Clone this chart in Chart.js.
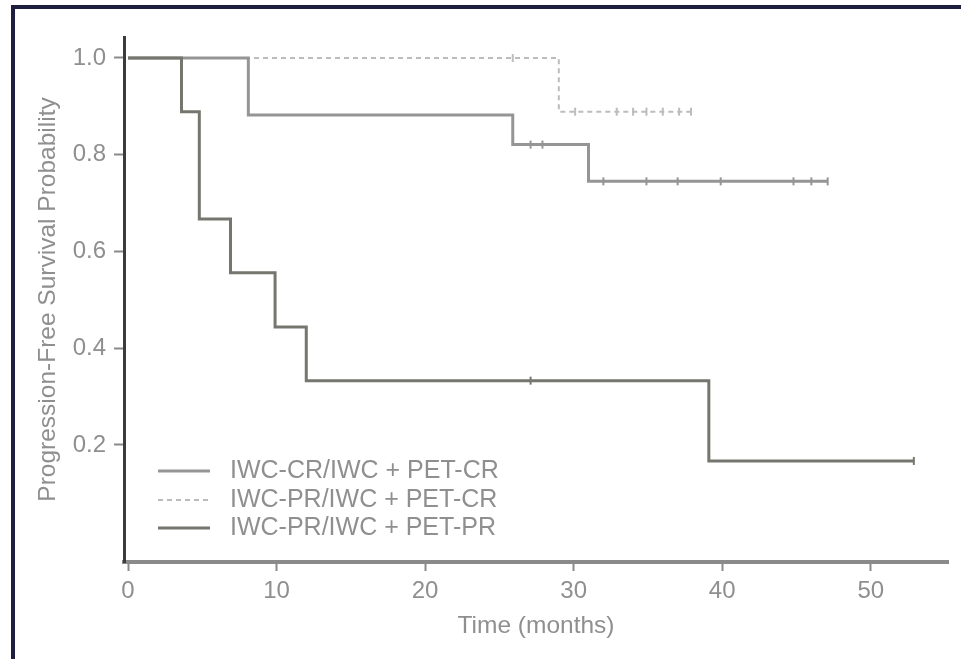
<!DOCTYPE html>
<html>
<head>
<meta charset="utf-8">
<script src="https://cdn.jsdelivr.net/npm/chart.js@4.4.1/dist/chart.umd.min.js"></script>
<style>
  html, body { margin: 0; padding: 0; background: #fff; }
  #wrap { position: relative; width: 961px; height: 659px; overflow: hidden; }
  #frame { position: absolute; left: 11px; top: 5px; right: -10px; bottom: -10px;
           border-top: 4px solid #1e1e40; border-left: 4px solid #1e1e40; pointer-events: none; }
  canvas { position: absolute; left: 0; top: 0; }
</style>
</head>
<body>
<div id="wrap"><canvas id="km" width="961" height="659"></canvas><div id="frame"></div></div>
<script>
// series names (legend order)
const seriesNames = ['IWC-CR/IWC + PET-CR', 'IWC-PR/IWC + PET-CR', 'IWC-PR/IWC + PET-PR'];

// Kaplan-Meier steps: time (months) and survival after the step
const crCrTimes = [0, 8.1, 25.9, 31.0, 47.1];
const crCrSurv  = [1.0, 0.882, 0.821, 0.745, 0.745];
const prCrTimes = [0, 29.0, 38.0];
const prCrSurv  = [1.0, 0.889, 0.889];
const prPrTimes = [0, 3.6, 4.8, 6.9, 9.9, 12.0, 39.1, 52.9];
const prPrSurv  = [1.0, 0.889, 0.667, 0.556, 0.444, 0.333, 0.167, 0.167];

// censored observations (tick marks)
const crCrCensorTimes = [27.1, 27.9, 32.0, 34.9, 37.0, 39.9, 44.8, 46.0, 47.1];
const crCrCensorSurv  = [0.821, 0.821, 0.745, 0.745, 0.745, 0.745, 0.745, 0.745, 0.745];
const prCrCensorTimes = [25.9, 30.1, 32.9, 34.0, 34.9, 36.0, 37.1, 37.9];
const prCrCensorSurv  = [1.0, 0.889, 0.889, 0.889, 0.889, 0.889, 0.889, 0.889];
const prPrCensorTimes = [27.1, 52.9];
const prPrCensorSurv  = [0.333, 0.167];

// axis ticks
const xTicks = [0, 10, 20, 30, 40, 50];
const yTicks = [0.2, 0.4, 0.6, 0.8, 1.0];

const FONT = '"Liberation Sans", Arial, sans-serif';
const TEXT = '#8f8f8f';

const pts = (xs, ys) => xs.map((x, i) => ({ x: x, y: ys[i] }));

const styles = [
  { color: '#959595', width: 3, dash: [] },
  { color: '#bcbcbc', width: 2, dash: [5, 4] },
  { color: '#76766e', width: 3, dash: [] }
];

function stepSet(i, xs, ys, order) {
  return {
    type: 'line', label: seriesNames[i], data: pts(xs, ys), stepped: 'before',
    borderColor: styles[i].color, borderWidth: styles[i].width, borderDash: styles[i].dash,
    pointRadius: 0, fill: false, order: order, isCurve: true
  };
}
function censorSet(i, xs, ys) {
  return {
    type: 'scatter', label: '', data: pts(xs, ys), showLine: false,
    pointStyle: 'line', rotation: 90, pointRadius: 4, borderWidth: 2,
    borderColor: styles[i].color, order: 0
  };
}

// legend drawn inside the plot, lower left
const kmLegend = {
  id: 'kmLegend',
  afterDraw(chart) {
    const ctx = chart.ctx;
    const rows = [471, 500, 528];
    let r = 0;
    chart.data.datasets.forEach(ds => {
      if (!ds.isCurve) return;
      const y = rows[r++];
      ctx.save();
      ctx.strokeStyle = ds.borderColor;
      ctx.lineWidth = ds.borderWidth;
      ctx.setLineDash(ds.borderDash);
      ctx.beginPath();
      ctx.moveTo(158, y);
      ctx.lineTo(210, y);
      ctx.stroke();
      ctx.setLineDash([]);
      ctx.fillStyle = TEXT;
      ctx.font = '25px ' + FONT;
      ctx.textBaseline = 'middle';
      ctx.fillText(ds.label, 230, y);
      ctx.restore();
    });
  }
};

new Chart(document.getElementById('km'), {
  data: {
    datasets: [
      stepSet(0, crCrTimes, crCrSurv, 2),
      stepSet(1, prCrTimes, prCrSurv, 3),
      stepSet(2, prPrTimes, prPrSurv, 1),
      censorSet(0, crCrCensorTimes, crCrCensorSurv),
      censorSet(1, prCrCensorTimes, prCrCensorSurv),
      censorSet(2, prPrCensorTimes, prPrCensorSurv)
    ]
  },
  options: {
    responsive: false,
    devicePixelRatio: 1,
    animation: false,
    layout: { padding: { top: 37, right: 13, left: 0, bottom: 0 } },
    plugins: { legend: { display: false }, tooltip: { enabled: false } },
    scales: {
      x: {
        type: 'linear', min: -0.27, max: 55.2,
        afterBuildTicks: s => { s.ticks = xTicks.map(v => ({ value: v })); },
        afterFit: s => { s.height = 97; },
        ticks: { font: { family: FONT, size: 24 }, color: TEXT, padding: 6, maxRotation: 0, autoSkip: false },
        grid: { drawOnChartArea: false, drawTicks: true, tickLength: 9, tickColor: '#8a8a8a', tickWidth: 2 },
        border: { color: '#8a8a8a', width: 4 },
        title: { display: true, text: 'Time (months)', font: { family: FONT, size: 24.5 }, color: TEXT,
                 padding: { top: 0, bottom: 18 } }
      },
      y: {
        type: 'linear', min: -0.0419, max: 1.0434,
        afterBuildTicks: s => { s.ticks = yTicks.map(v => ({ value: v })); },
        afterFit: s => { s.width = 124; },
        ticks: { font: { family: FONT, size: 24 }, color: TEXT, padding: 8, callback: v => v.toFixed(1) },
        grid: { drawOnChartArea: false, drawTicks: true, tickLength: 10, tickColor: '#8a8a8a', tickWidth: 2 },
        border: { color: '#3c3c3c', width: 3 },
        title: { display: true, text: 'Progression-Free Survival Probability', font: { family: FONT, size: 24.5 },
                 color: TEXT, padding: { top: 34, bottom: 0 } }
      }
    }
  },
  plugins: [kmLegend]
});
</script>
</body>
</html>
